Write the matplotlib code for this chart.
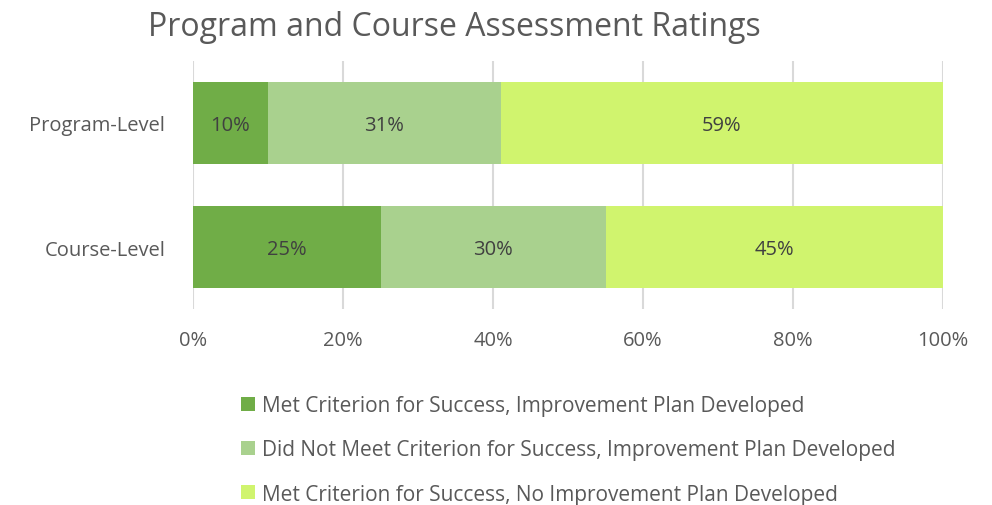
import matplotlib
matplotlib.use("Agg")
from matplotlib import pyplot as plt

# dados
categorias = ["Program-Level", "Course-Level"]
series = ["Met Criterion for Success, Improvement Plan Developed",
          "Did Not Meet Criterion for Success, Improvement Plan Developed",
          "Met Criterion for Success, No Improvement Plan Developed"]
valores = [[10, 25],
           [31, 30],
           [59, 45]]
xticks = [0, 20, 40, 60, 80, 100]

cores = ["#70AD47", "#A9D18E", "#D0F46E"]
cinza = "#595959"

plt.rcParams["font.family"] = ["Open Sans", "DejaVu Sans"]

fig = plt.figure(figsize=(9.92, 5.06), dpi=100)
ax = fig.add_axes([193/992, 1-310/506, 750/992, 248/506])

y = list(range(len(categorias)))
esquerda = [0]*len(categorias)
barras = []
for nome, vals, cor in zip(series, valores, cores):
    b = ax.barh(y, vals, left=esquerda, height=0.66, color=cor, label=nome, zorder=3)
    barras.append(b)
    for yi, v, l in zip(y, vals, esquerda):
        ax.text(l + v/2, yi + 0.02, f"{v}%", ha="center", va="center", fontsize=14.5, color="#404040", zorder=4)
    esquerda = [a+b_ for a, b_ in zip(esquerda, vals)]

ax.set_xlim(0, 100)
ax.set_ylim(1.5, -0.5)
ax.set_xticks(xticks)
ax.set_xticklabels([f"{t}%" for t in xticks])
ax.set_yticks(y)
ax.set_yticklabels(categorias)
ax.tick_params(axis="both", length=0, labelsize=14.5, colors=cinza)
ax.tick_params(axis="x", pad=15)
ax.tick_params(axis="y", pad=20)
ax.grid(axis="x", color="#D9D9D9", linewidth=1.5, zorder=0)
for s in ax.spines.values():
    s.set_visible(False)

fig.text(454/992, 1-28/506, "Program and Course Assessment Ratings", ha="center", va="center",
         fontsize=23, color=cinza)

fig.legend(handles=barras, loc="upper left", bbox_to_anchor=(241/992, 1-396/506),
           frameon=False, fontsize=15, labelcolor=cinza, handlelength=0.65, handleheight=0.65,
           handletextpad=0.35, labelspacing=1.12, borderpad=0, borderaxespad=0)

fig.savefig("out.png", dpi=100)
